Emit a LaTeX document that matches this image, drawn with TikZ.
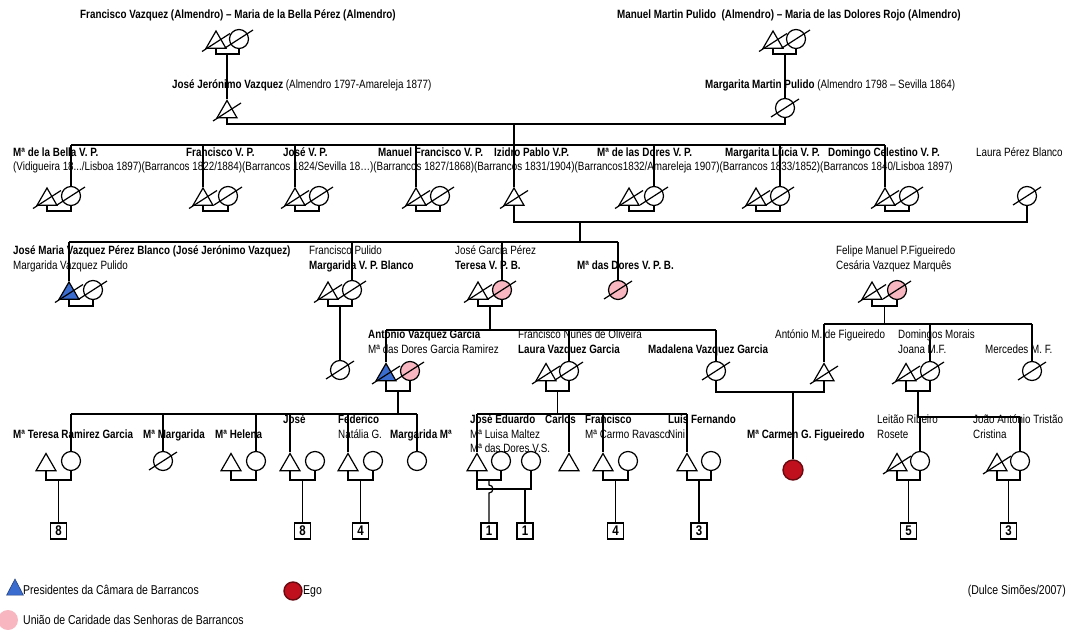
\documentclass[tikz,border=0pt]{standalone}
\usepackage{fontspec}
\setmainfont{Liberation Sans}[FakeStretch=0.82]
\usetikzlibrary{shapes.geometric}

\definecolor{presblue}{HTML}{3A6CD0}
\definecolor{uniaopink}{HTML}{F8B6C0}
\definecolor{egored}{HTML}{C0101E}
\definecolor{egoedge}{HTML}{6A0A10}

\newcommand\lblfont{\fontsize{12}{14}\selectfont}
\newcommand\legfont{\fontsize{12.8}{15}\selectfont}

\tikzset{
  kin/.style={draw=black, line width=1.2pt},
  male/.style={regular polygon, regular polygon sides=3, draw, line width=1.2pt,
               minimum size=23pt, inner sep=0pt},
  female/.style={circle, draw, line width=1.2pt, minimum size=19pt, inner sep=0pt},
  pres/.style={fill=presblue},
  uniao/.style={fill=uniaopink},
  ego/.style={fill=egored, draw=egoedge, line width=1.4pt},
  nb/.style={anchor=west, inner sep=0pt, text height=9pt, text depth=2.5pt, font=\lblfont\bfseries},
  nr/.style={anchor=west, inner sep=0pt, text height=9pt, text depth=2.5pt, font=\lblfont},
  lg/.style={anchor=west, inner sep=0pt, text height=9pt, text depth=2.5pt, font=\legfont},
  offspring/.style={draw, line width=1.7pt, minimum size=16pt, inner sep=0pt,
                    font=\fontsize{14}{14}\selectfont\bfseries},
}

% person symbols, the cross-out line of a deceased person, marriage brackets, descent lines
\newcommand\manat[3][]{\node[male,#1] (#2) at (#3) {};}
\newcommand\womanat[3][]{\node[female,#1] (#2) at (#3) {};}
\newcommand\deadmark[1]{\draw[kin] ([shift={(-14,9)}]#1.center) -- ([shift={(14,-9)}]#1.center);}
\newcommand\union[3]{\draw[kin] (#1.south) |- (#3) -| (#2.south);}
\newcommand\drop[2]{\draw[kin] (#1.north |- #2) -- (#1.north);}

\begin{document}
\begin{tikzpicture}[x=1pt,y=-1pt]
\useasboundingbox (0,0) rectangle (1073,629);
\fill[white] (0,0) rectangle (1073,629);

% ---------- generation I
\node[nb] (lblA) at (80,15) {Francisco Vazquez (Almendro) – Maria de la Bella Pérez (Almendro)};
\node[nb] (lblB) at (617,15) {Manuel Martin Pulido\ \ (Almendro) – Maria de las Dolores Rojo (Almendro)};
\manat{fvz}{216,42.5}\deadmark{fvz}
\womanat{mbp}{239,39}\deadmark{mbp}
\coordinate (uA) at (227,54);
\union{fvz}{mbp}{uA}
\manat{mmp}{773,42.5}\deadmark{mmp}
\womanat{mdr}{796,39}\deadmark{mdr}
\coordinate (uB) at (785,54);
\union{mmp}{mdr}{uB}

% ---------- generation II
\node[nr] (lblJJ) at (172,85) {\textbf{José Jerónimo Vazquez} (Almendro 1797-Amareleja 1877)};
\node[nr] (lblMM) at (705,85) {\textbf{Margarita Martin Pulido} (Almendro 1798 – Sevilla 1864)};
\manat{jjv}{227,112}\deadmark{jjv}
\womanat{mmpu}{785,108}\deadmark{mmpu}
\draw[kin] (uA) -- (jjv.north);
\draw[kin] (uB) -- (mmpu.north);
\coordinate (uC) at (514,124);
\union{jjv}{mmpu}{uC}
\coordinate (sibC) at (514,145);
\draw[kin] (uC) -- (sibC);

% ---------- generation III
\node[nb] at (13,153) {Mª de la Bella V. P.};
\node[nb] at (186,153) {Francisco V. P.};
\node[nb] at (283,153) {José V. P.};
\node[nb] at (378,153) {Manuel Francisco V. P.};
\node[nb] at (494,153) {Izidro Pablo V.P.};
\node[nb] at (597,153) {Mª de las Dores V. P.};
\node[nb] at (725,153) {Margarita Lúcia V. P.};
\node[nb] at (828,153) {Domingo Celestino V. P.};
\node[nr] at (976,153) {Laura Pérez Blanco};
\node[nr] (lblYears) at (13,167) {(Vidigueira 18.../Lisboa 1897)(Barrancos 1822/1884)(Barrancos 1824/Sevilla 18…)(Barrancos 1827/1868)(Barrancos 1831/1904)(Barrancos1832/Amareleja 1907)(Barrancos 1833/1852)(Barrancos 1840/Lisboa 1897)};

\manat{g3at}{47,199.5}\deadmark{g3at}   \womanat{g3ac}{71,196}\deadmark{g3ac}
\coordinate (u3a) at (59,211);  \union{g3at}{g3ac}{u3a}
\manat{g3bt}{203,199.5}\deadmark{g3bt}  \womanat{g3bc}{228,196}\deadmark{g3bc}
\coordinate (u3b) at (215,211); \union{g3bt}{g3bc}{u3b}
\manat{g3ct}{295,199.5}\deadmark{g3ct}  \womanat{g3cc}{319,196}\deadmark{g3cc}
\coordinate (u3c) at (307,211); \union{g3ct}{g3cc}{u3c}
\manat{g3dt}{416,199.5}\deadmark{g3dt}  \womanat{g3dc}{440,196}\deadmark{g3dc}
\coordinate (u3d) at (428,211); \union{g3dt}{g3dc}{u3d}
\manat{izp}{514,199.5}\deadmark{izp}
\manat{g3ft}{629,199.5}\deadmark{g3ft}  \womanat{g3fc}{654,196}\deadmark{g3fc}
\coordinate (u3f) at (641,211); \union{g3ft}{g3fc}{u3f}
\manat{g3gt}{756,199.5}\deadmark{g3gt}  \womanat{g3gc}{780,196}\deadmark{g3gc}
\coordinate (u3g) at (768,211); \union{g3gt}{g3gc}{u3g}
\manat{g3ht}{885,199.5}\deadmark{g3ht}  \womanat{g3hc}{909,196}\deadmark{g3hc}
\coordinate (u3h) at (897,211); \union{g3ht}{g3hc}{u3h}
\womanat{lpb}{1027,196}\deadmark{lpb}

\draw[kin] (g3ac.north |- sibC) -- (g3ht.north |- sibC);
\drop{g3ac}{sibC} \drop{g3bt}{sibC} \drop{g3ct}{sibC} \drop{g3dt}{sibC}
\drop{izp}{sibC} \drop{g3fc}{sibC} \drop{g3gc}{sibC} \drop{g3ht}{sibC}

\coordinate (uD) at (580,222);
\union{izp}{lpb}{uD}
\coordinate (sibD) at (580,242);
\draw[kin] (uD) -- (sibD);

% ---------- generation IV
\node[nb] at (13,251) {José Maria Vazquez Pérez Blanco (José Jerónimo Vazquez)};
\node[nr] at (13,266) {Margarida Vazquez Pulido};
\node[nr] at (309,251) {Francisco Pulido};
\node[nb] at (309,266) {Margarida V. P. Blanco};
\node[nr] at (455,251) {José Garcia Pérez};
\node[nb] at (455,266) {Teresa V. P. B.};
\node[nb] at (577,266) {Mª das Dores V. P. B.};
\node[nr] at (836,251) {Felipe Manuel P.Figueiredo};
\node[nr] at (836,266) {Cesária Vazquez Marquês};

\manat[pres]{jmv}{69,293.5}\deadmark{jmv}   \womanat{mvpu}{93,290}\deadmark{mvpu}
\coordinate (u4a) at (81,306);  \union{jmv}{mvpu}{u4a}
\manat{fpu}{328,293.5}\deadmark{fpu}        \womanat{mvpb}{352,290}\deadmark{mvpb}
\coordinate (u4b) at (340,306); \union{fpu}{mvpb}{u4b}
\manat{jgp}{478,293.5}\deadmark{jgp}        \womanat[uniao]{tvpb}{502,290}\deadmark{tvpb}
\coordinate (u4c) at (490,306); \union{jgp}{tvpb}{u4c}
\womanat[uniao]{mdvpb}{618,290}\deadmark{mdvpb}
\manat{fmf}{872,293.5}\deadmark{fmf}        \womanat[uniao]{cvm}{897,290}\deadmark{cvm}
\coordinate (u4e) at (884.5,306); \union{fmf}{cvm}{u4e}

\draw[kin] (jmv.north |- sibD) -- (mdvpb.north |- sibD);
\drop{jmv}{sibD} \drop{mvpb}{sibD} \drop{tvpb}{sibD} \drop{mdvpb}{sibD}

% ---------- generation V
\node[nb] at (368,335) {António Vazquez Garcia};
\node[nr] at (368,350) {Mª das Dores Garcia Ramirez};
\node[nr] at (518,335) {Francisco Nunes de Oliveira};
\node[nb] at (518,350) {Laura Vazquez Garcia};
\node[nb] at (648,350) {Madalena Vazquez Garcia};
\node[nr] at (775,335) {António M. de Figueiredo};
\node[nr] at (898,335) {Domingos Morais};
\node[nr] at (898,350) {Joana M.F.};
\node[nr] at (985,350) {Mercedes M. F.};

\womanat{ucv}{340,370}\deadmark{ucv}
\draw[kin] (u4b) -- (ucv.north);

\manat[pres]{avg}{386,375}\deadmark{avg}    \womanat[uniao]{mdgr}{410,371}\deadmark{mdgr}
\coordinate (u5a) at (398,391); \union{avg}{mdgr}{u5a}
\manat{fno}{546,375}\deadmark{fno}          \womanat{lvg}{569,371}\deadmark{lvg}
\coordinate (u5b) at (557.5,391); \union{fno}{lvg}{u5b}
\womanat{mvg}{716,371}\deadmark{mvg}
\manat{amf}{824,375}\deadmark{amf}
\coordinate (u5c) at (793,392); \union{mvg}{amf}{u5c}
\manat{dmo}{906,375}\deadmark{dmo}          \womanat{jmf}{930,371}\deadmark{jmf}
\coordinate (u5d) at (918,391); \union{dmo}{jmf}{u5d}
\womanat{mmf}{1032,371}\deadmark{mmf}

\coordinate (sibE1) at (490,330);
\draw[kin] (u4c) -- (sibE1);
\draw[kin] (avg.north |- sibE1) -- (mvg.north |- sibE1);
\drop{avg}{sibE1} \drop{lvg}{sibE1} \drop{mvg}{sibE1}

\coordinate (sibE2) at (884.5,324);
\draw[kin] (u4e) -- (sibE2);
\draw[kin] (amf.north |- sibE2) -- (mmf.north |- sibE2);
\drop{amf}{sibE2} \drop{jmf}{sibE2} \drop{mmf}{sibE2}

% ---------- generation VI
\node[nb] at (13,435) {Mª Teresa Ramirez Garcia};
\node[nb] at (143,435) {Mª Margarida};
\node[nb] at (215,435) {Mª Helena};
\node[nb] at (283,420) {José};
\node[nb] at (338,420) {Federico};
\node[nr] at (338,435) {Natália G.};
\node[nb] at (390,435) {Margarida Mª};
\node[nb] at (470,420) {José Eduardo};
\node[nr] at (470,435) {Mª Luisa Maltez};
\node[nr] at (470,449) {Mª das Dores V.S.};
\node[nb] at (545,420) {Carlos};
\node[nb] at (585,420) {Francisco};
\node[nr] at (585,435) {Mª Carmo Ravasco};
\node[nb] at (668,420) {Luís Fernando};
\node[nr] at (668,435) {Nini};
\node[nb] at (747,435) {Mª Carmen G. Figueiredo};
\node[nr] at (877,420) {Leitão Ribeiro};
\node[nr] at (877,435) {Rosete};
\node[nr] at (973,420) {João António Tristão};
\node[nr] at (973,435) {Cristina};

\manat{e1t}{46,465}   \womanat{e1c}{71,461}
\coordinate (u6a) at (58.5,480); \union{e1t}{e1c}{u6a}
\womanat{e2c}{163,461}\deadmark{e2c}
\manat{e3t}{231,465}  \womanat{e3c}{256,461}
\coordinate (u6c) at (243.5,480); \union{e3t}{e3c}{u6c}
\manat{e4t}{290,465}  \womanat{e4c}{315,461}
\coordinate (u6d) at (302.5,480); \union{e4t}{e4c}{u6d}
\manat{e5t}{348,465}  \womanat{e5c}{373,461}
\coordinate (u6e) at (360.5,480); \union{e5t}{e5c}{u6e}
\womanat{e6c}{417,461}

\coordinate (sibF1) at (398,414);
\draw[kin] (u5a) -- (sibF1);
\draw[kin] (e1c.north |- sibF1) -- (e6c.north |- sibF1);
\drop{e1c}{sibF1} \drop{e2c}{sibF1} \drop{e3c}{sibF1}
\drop{e4t}{sibF1} \drop{e5t}{sibF1} \drop{e6c}{sibF1}

\manat{jed}{477,465}  \womanat{jew1}{501,461}  \womanat{jew2}{531,461}
\coordinate (u6g) at (489,480); \union{jed}{jew1}{u6g}
\coordinate (u6h) at (525,489); \union{jed}{jew2}{u6h}
\manat{e8t}{569,465}
\manat{e9t}{603,465}  \womanat{e9c}{628,461}
\coordinate (u6i) at (615.5,480); \union{e9t}{e9c}{u6i}
\manat{e10t}{687,465} \womanat{e10c}{711,461}
\coordinate (u6j) at (699,480); \union{e10t}{e10c}{u6j}

\coordinate (sibF2) at (557.5,414);
\draw[kin] (u5b) -- (sibF2);
\draw[kin] (jed.north |- sibF2) -- (e10t.north |- sibF2);
\drop{jed}{sibF2} \drop{e8t}{sibF2} \drop{e9t}{sibF2} \drop{e10t}{sibF2}

\node[female, ego, minimum size=20pt] (egoC) at (793,470) {};
\draw[kin] (u5c) -- (egoC.north);

\manat{e11t}{897,465}\deadmark{e11t}  \womanat{e11c}{920,461}
\coordinate (u6k) at (908.5,480); \union{e11t}{e11c}{u6k}
\manat{e12t}{997,465}\deadmark{e12t}  \womanat{e12c}{1020,461}
\coordinate (u6l) at (1008.5,480); \union{e12t}{e12c}{u6l}

\coordinate (sibF3) at (918,417);
\draw[kin] (u5d) -- (sibF3);
\draw[kin] (sibF3) -- (e12c.north |- sibF3);
\drop{e11c}{sibF3} \drop{e12c}{sibF3}

% ---------- number of descendants
\node[offspring] (sq1) at (58.5,531) {8};
\node[offspring] (sq2) at (302.5,531) {8};
\node[offspring] (sq3) at (360.5,531) {4};
\node[offspring] (sq4) at (489,531) {1};
\node[offspring] (sq5) at (525,531) {1};
\node[offspring] (sq6) at (615.5,531) {4};
\node[offspring] (sq7) at (699,531) {3};
\node[offspring] (sq8) at (908.5,531) {5};
\node[offspring] (sq9) at (1008.5,531) {3};
\draw[kin] (u6a) -- (sq1.north);
\draw[kin] (u6d) -- (sq2.north);
\draw[kin] (u6e) -- (sq3.north);
\draw[kin] (u6g) -- ++(0,5) arc[start angle=90, end angle=-90, radius=4pt] -- (sq4.north);
\draw[kin] (u6h) -- (sq5.north);
\draw[kin] (u6i) -- (sq6.north);
\draw[kin] (u6j) -- (sq7.north);
\draw[kin] (u6k) -- (sq8.north);
\draw[kin] (u6l) -- (sq9.north);

% ---------- legend
\node[isosceles triangle, isosceles triangle apex angle=55, shape border rotate=90,
      fill=presblue, draw=presblue!60!black, line width=0.6pt,
      minimum height=16pt, inner sep=0pt] (legPres) at (15,590) {};
\node[lg] (legPresT) at (23,591) {Presidentes da Câmara de Barrancos};
\node[circle, fill=uniaopink, minimum size=20pt, inner sep=0pt] (legUniao) at (8,620) {};
\node[lg] (legUniaoT) at (23,621) {União de Caridade das Senhoras de Barrancos};
\node[circle, fill=egored, draw=egoedge, line width=1.4pt, minimum size=18pt, inner sep=0pt] (legEgo) at (293,591) {};
\node[lg] (legEgoT) at (303,591) {Ego};
\node[lg, anchor=east] (credit) at (1066,591) {(Dulce Simões/2007)};
\end{tikzpicture}
\end{document}
